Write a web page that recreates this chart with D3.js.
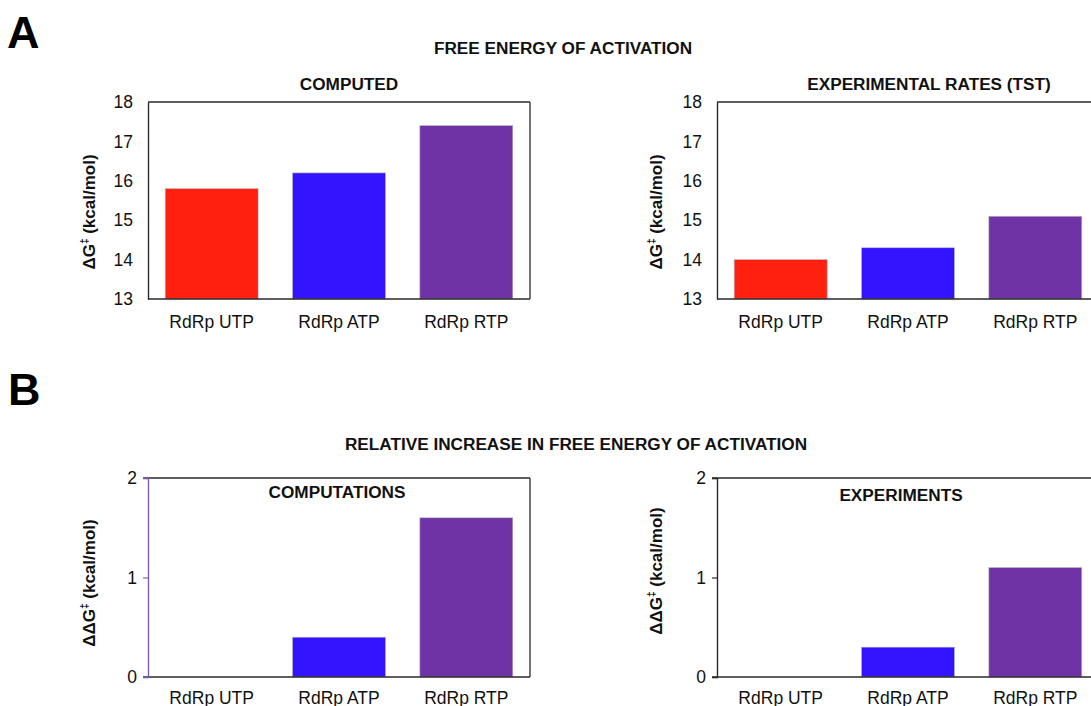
<!DOCTYPE html>
<html>
<head>
<meta charset="utf-8">
<script src="https://cdn.jsdelivr.net/npm/d3@7"></script>
<style>
  html, body { margin: 0; padding: 0; background: #fff; }
  svg { display: block; font-family: "Liberation Sans", Arial, Helvetica, sans-serif; }
</style>
</head>
<body>
<svg id="chart" width="1091" height="706"></svg>
<script>
// Categories and bar colours shared by all four panels
const categories = ["RdRp UTP", "RdRp ATP", "RdRp RTP"];
const barColors = ["#ff2010", "#3413ff", "#7033a5"];

// Free energy of activation, ΔG‡ (kcal/mol)
const computedDG = [15.8, 16.2, 17.4];
const experimentalDG = [14.0, 14.3, 15.1];

// Relative increase with respect to UTP, ΔΔG‡ (kcal/mol)
const computedDDG = [0, 0.4, 1.6];
const experimentalDDG = [0, 0.3, 1.1];

// Tick values
const dgTicks = [13, 14, 15, 16, 17, 18];
const ddgTicks = [0, 1, 2];

const svg = d3.select("#chart");
const labelSize = 17.5;
const titleSize = 17.2;

function drawPanel(cfg) {
  const g = svg.append("g");
  const x = d3.scaleBand()
    .domain(categories)
    .range([cfg.left, cfg.left + cfg.width])
    .paddingInner(0.27)
    .paddingOuter(0.135);
  const y = d3.scaleLinear()
    .domain(cfg.domain)
    .range([cfg.top + cfg.height, cfg.top]);

  // bars
  g.selectAll("rect.bar")
    .data(cfg.values)
    .join("rect")
    .attr("class", "bar")
    .attr("x", (d, i) => x(categories[i]))
    .attr("width", x.bandwidth())
    .attr("y", d => y(d))
    .attr("height", d => y(cfg.domain[0]) - y(d))
    .attr("fill", (d, i) => barColors[i])
    .attr("stroke", (d) => d > cfg.domain[0] ? "#b8b8c0" : "none")
    .attr("stroke-width", 0.6);

  // plot frame
  const y0 = y(cfg.domain[0]), y1 = y(cfg.domain[1]);
  const xl = cfg.left, xr = cfg.left + cfg.width;
  const tk = cfg.tickSize;
  g.append("line").attr("x1", xl - tk).attr("x2", xr).attr("y1", y1).attr("y2", y1)
    .attr("stroke", "#2a2a2a").attr("stroke-width", 1.3);
  g.append("line").attr("x1", xl - tk).attr("x2", xr).attr("y1", y0).attr("y2", y0)
    .attr("stroke", "#2a2a2a").attr("stroke-width", 1.3);
  g.append("line").attr("x1", xr).attr("x2", xr).attr("y1", y1).attr("y2", y0)
    .attr("stroke", "#2a2a2a").attr("stroke-width", 1.3);

  // value axis
  const yAxis = d3.axisLeft(y)
    .tickValues(cfg.ticks)
    .tickFormat(d3.format("d"))
    .tickSize(tk)
    .tickPadding(cfg.tickPadding);
  const ya = g.append("g").attr("transform", `translate(${xl},0)`).call(yAxis);
  ya.select(".domain").attr("stroke", cfg.axisColor).attr("stroke-width", 1.4);
  ya.selectAll(".tick line").attr("stroke", cfg.axisColor).attr("stroke-width", 1.2);
  ya.selectAll(".tick text")
    .attr("font-size", labelSize).attr("fill", "#111")
    .attr("font-family", "'Liberation Sans', Arial, sans-serif");

  // category axis
  const xAxis = d3.axisBottom(x).tickSize(0).tickPadding(cfg.catPadding);
  const xa = g.append("g").attr("transform", `translate(0,${y0})`).call(xAxis);
  xa.select(".domain").remove();
  xa.selectAll(".tick text")
    .attr("font-size", labelSize).attr("fill", "#111")
    .attr("font-family", "'Liberation Sans', Arial, sans-serif");

  // panel title
  g.append("text")
    .attr("x", cfg.titleX).attr("y", cfg.titleY)
    .attr("text-anchor", "middle")
    .attr("font-size", titleSize).attr("font-weight", "bold").attr("fill", "#111")
    .text(cfg.title);

  // value axis label
  const lab = g.append("text")
    .attr("transform", `translate(${cfg.labelX},${cfg.labelY}) rotate(-90)`)
    .attr("text-anchor", "middle")
    .attr("font-size", 17).attr("font-weight", "bold").attr("fill", "#111");
  lab.append("tspan").text(cfg.labelPrefix + "G");
  lab.append("tspan").attr("font-size", 10).attr("dy", -7).text("\u2021");
  lab.append("tspan").attr("dy", 7).text(" (kcal/mol)");
}

// section letters and headings
svg.append("text").attr("x", 7).attr("y", 48)
  .attr("font-size", 45).attr("font-weight", "bold").text("A");
svg.append("text").attr("x", 8).attr("y", 405)
  .attr("font-size", 45).attr("font-weight", "bold").text("B");
svg.append("text").attr("x", 563).attr("y", 54).attr("text-anchor", "middle")
  .attr("font-size", titleSize).attr("font-weight", "bold").attr("fill", "#111")
  .text("FREE ENERGY OF ACTIVATION");
svg.append("text").attr("x", 576).attr("y", 450).attr("text-anchor", "middle")
  .attr("font-size", titleSize).attr("font-weight", "bold").attr("fill", "#111")
  .text("RELATIVE INCREASE IN FREE ENERGY OF ACTIVATION");

const panelWidth = 382;

drawPanel({
  left: 148, top: 102, width: panelWidth, height: 197,
  domain: [13, 18], ticks: dgTicks, values: computedDG,
  tickSize: 0, tickPadding: 15, catPadding: 17, axisColor: "#2a2a2a",
  title: "COMPUTED", titleX: 349, titleY: 90,
  labelPrefix: "\u0394", labelX: 95, labelY: 212
});
drawPanel({
  left: 717, top: 102, width: panelWidth, height: 197,
  domain: [13, 18], ticks: dgTicks, values: experimentalDG,
  tickSize: 0, tickPadding: 15, catPadding: 17, axisColor: "#2a2a2a",
  title: "EXPERIMENTAL RATES (TST)", titleX: 929, titleY: 90,
  labelPrefix: "\u0394", labelX: 662, labelY: 212
});
drawPanel({
  left: 148, top: 478, width: panelWidth, height: 199,
  domain: [0, 2], ticks: ddgTicks, values: computedDDG,
  tickSize: 5, tickPadding: 6, catPadding: 15, axisColor: "#7f5fa6",
  title: "COMPUTATIONS", titleX: 337, titleY: 498,
  labelPrefix: "\u0394\u0394", labelX: 95, labelY: 583
});
drawPanel({
  left: 717, top: 478, width: panelWidth, height: 199,
  domain: [0, 2], ticks: ddgTicks, values: experimentalDDG,
  tickSize: 5, tickPadding: 6, catPadding: 15, axisColor: "#2a2a2a",
  title: "EXPERIMENTS", titleX: 901, titleY: 501,
  labelPrefix: "\u0394\u0394", labelX: 662, labelY: 571
});
</script>
</body>
</html>
